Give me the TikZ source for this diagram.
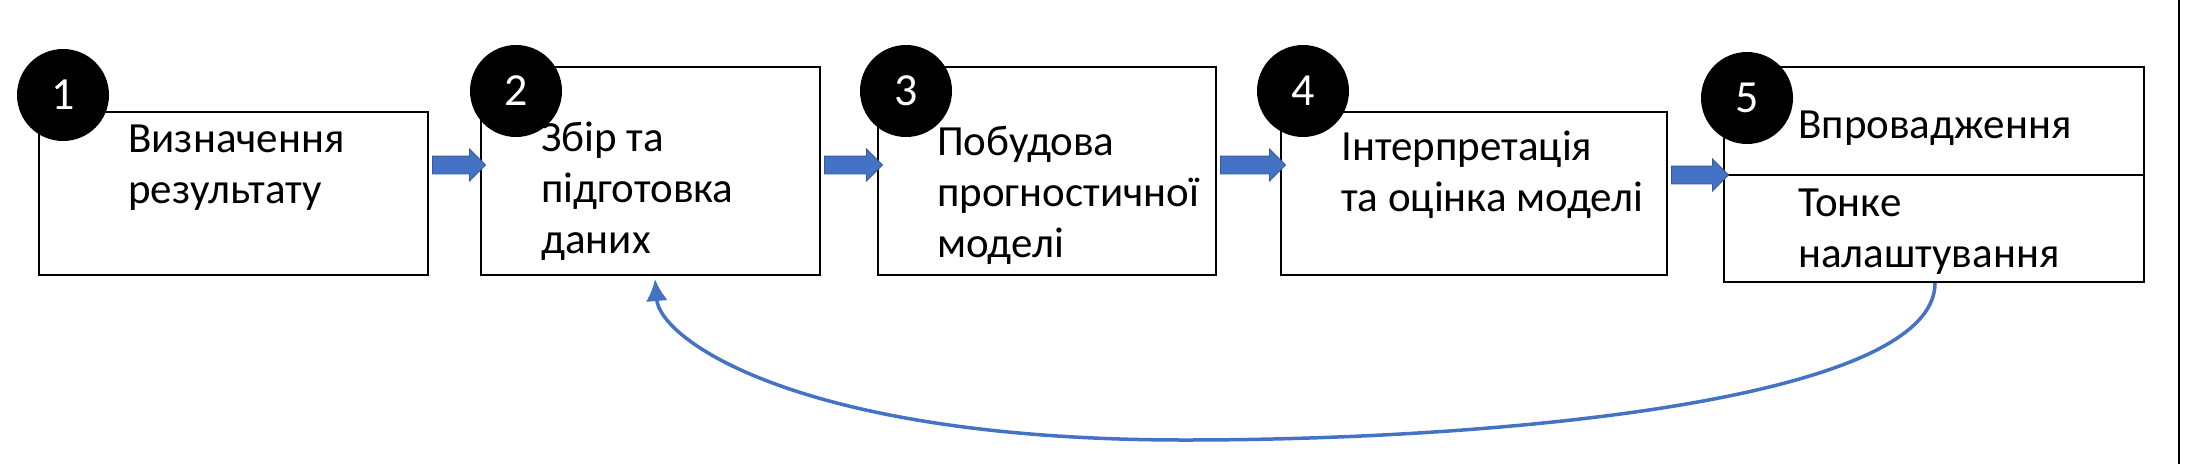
\documentclass[tikz,border=0pt]{standalone}
\usepackage{fontspec}
\setmainfont{Carlito}
\usetikzlibrary{shapes.arrows,arrows.meta}
\definecolor{myblue}{HTML}{4472C4}
\begin{document}
\begin{tikzpicture}[x=1pt,y=-1pt,
  box/.style={draw=black,line width=2.2pt},
  num/.style={circle,fill=black,minimum size=92pt,inner sep=0pt,text=white,font=\fontsize{46}{48}\selectfont},
  txt/.style={anchor=west,align=left,inner sep=0pt,font=\fontsize{43}{51}\selectfont},
  blk/.style={single arrow,fill=myblue,draw=myblue!80!black,line width=0.8pt,minimum height=54pt,inner xsep=0pt,inner ysep=8.5pt,single arrow head extend=7pt,single arrow tip angle=90}]
\useasboundingbox (0,0) rectangle (2186,464);
\fill[white] (0,0) rectangle (2186,464);
\draw[line width=2.5pt] (2179,0) -- (2179,464);
\draw[box] (39,112) rectangle (428,275);
\draw[box] (481,67) rectangle (820,275);
\draw[box] (878,67) rectangle (1216,275);
\draw[box] (1281,112) rectangle (1667,275);
\draw[box] (1724,67) rectangle (2144,282);
\draw[box] (1724,175) -- (2144,175);
\node[blk,minimum height=53pt] (a1) at (454.5,165) {};
\node[blk,minimum height=58pt] (a2) at (849,165) {};
\node[blk,minimum height=65pt] (a3) at (1248.5,165) {};
\node[blk,minimum height=57pt] (a4) at (1695.5,175) {};
\node[txt] (t1) at (128,168) {Визначення\\результату};
\node[txt] (t2) at (541,191) {Збір та\\підготовка\\даних};
\node[txt] (t3) at (937,195) {Побудова\\прогностичної\\моделі};
\node[txt] (t4) at (1341,175) {Інтерпретація\\та оцінка моделі};
\node[txt] (t5) at (1798,128) {Впровадження};
\node[txt] (t6) at (1798,232) {Тонке\\налаштування};
\node[num] (n1) at (63,95) {1};
\node[num] (n2) at (516,91) {2};
\node[num] (n3) at (906,91) {3};
\node[num] (n4) at (1303,91) {4};
\node[num] (n5) at (1747,98) {5};
\coordinate (cs) at (1935,283);
\coordinate (ce) at (655,279);
\draw[myblue,line width=3.5pt,-{Latex[length=22pt,width=22pt]}] (cs) .. controls (1935,400) and (1500,440) .. (1185,440) .. controls (800,440) and (660,340) .. (ce);
\end{tikzpicture}
\end{document}
